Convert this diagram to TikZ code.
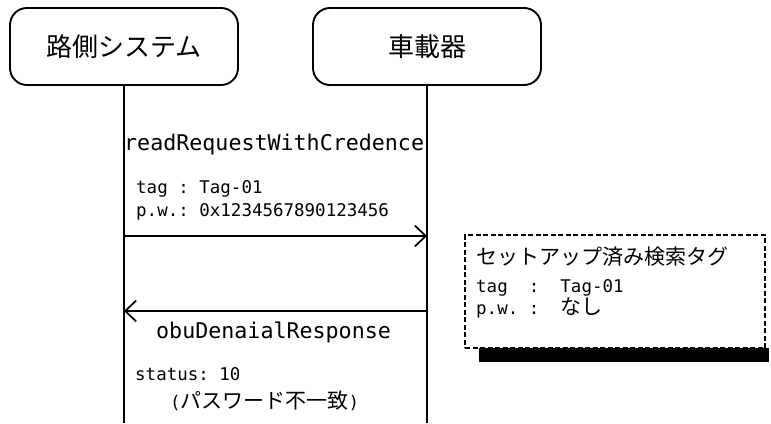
\documentclass[tikz,border=0pt]{standalone}
\usepackage{fontspec}
\setmainfont{DejaVu Sans Mono}[Scale=0.833]
\newfontfamily\jp{Noto Sans CJK JP}
\usetikzlibrary{arrows.meta}
\tikzset{
  x=1pt, y=-1pt,
  actor/.style={draw, line width=1.9pt, rounded corners=17pt, minimum width=228pt, minimum height=77pt, font=\fontsize{26}{30}\selectfont\jp},
  life/.style={line width=1.9pt},
  msg/.style={line width=1.7pt, -{Straight Barb[length=11pt,width=21pt,line width=1.7pt]}},
  lbl/.style={anchor=base west, inner sep=0pt, font=\fontsize{26}{30}\selectfont},
  small/.style={anchor=base west, inner sep=0pt, font=\fontsize{21}{25}\selectfont},
  notebox/.style={draw, fill=white, line width=2.3pt, dash pattern=on 5pt off 2.5pt, minimum width=300pt, minimum height=113pt, inner sep=0pt},
}
\begin{document}
\begin{tikzpicture}
\useasboundingbox (0,0) rectangle (771,423);
% actors
\node[actor] (A) at (124,46.5) {路側システム};
\node[actor] (B) at (427,46.5) {車載器};
\coordinate (Aend) at (124,423);
\coordinate (Bend) at (427,423);
\draw[life] (A.south) -- (Aend);
\draw[life] (B.south) -- (Bend);
% message 1
\node[lbl] (m1) at (124,150) {readRequestWithCredence};
\node[small] (m1a) at (136,193) {tag~:~Tag-01};
\node[small] (m1b) at (136,216.5) {p.w.:~0x1234567890123456};
\coordinate (a1s) at (124,236);
\coordinate (a1e) at (427,236);
\draw[msg] (a1s) -- (a1e);
% message 2
\coordinate (a2s) at (427,311);
\coordinate (a2e) at (124,311);
\draw[msg] (a2s) -- (a2e);
\node[lbl] (m2) at (156,338) {obuDenaialResponse};
\node[small] (m2a) at (135,380) {status:~10};
\node[small] (m2b) at (170,408) {(\jp パスワード不一致\rmfamily)};
% note
\fill (479,348) rectangle (769,362);
\node[notebox] (N) at (615,291.5) {};
\node[small] (n1) at (476,264) {\jp セットアップ済み検索タグ};
\node[small] (n2) at (476,292.5) {tag~~:~~Tag-01};
\node[small] (n3) at (476,314.5) {p.w.~:~~{\jp なし}};
\end{tikzpicture}
\end{document}
